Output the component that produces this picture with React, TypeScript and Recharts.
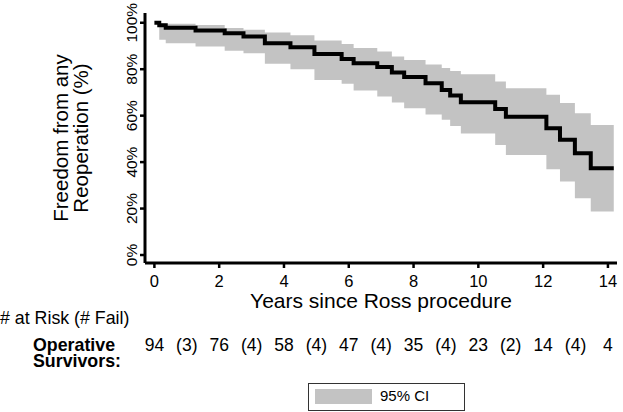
import React from 'react';
import { ComposedChart, Area, Line, XAxis, YAxis } from 'recharts';

const FONT = '"Liberation Sans", Arial, Helvetica, sans-serif';

// Kaplan-Meier estimate (step times in years, freedom from reoperation in %)
const years = [0, 0.15, 0.35, 1.27, 2.17, 2.75, 3.41, 4.2, 4.94, 5.78, 6.15, 6.88, 7.33, 7.71, 8.37, 8.87, 9.13, 9.46, 10.52, 10.85, 12.1, 12.52, 12.98, 13.47, 14.18];
const survival = [100, 98.9, 97.9, 96.7, 95.5, 94.1, 91.2, 89.4, 86.5, 84.4, 82.6, 80.9, 78.6, 76.6, 74.0, 71.1, 68.7, 65.8, 62.9, 59.5, 54.6, 49.6, 43.8, 37.4, 37.4];
const ciUpper = [100, 99.8, 99.6, 99.0, 97.7, 97.0, 95.8, 94.6, 92.4, 90.9, 89.1, 87.6, 85.5, 84.0, 82.0, 80.5, 79.2, 77.8, 74.7, 71.8, 69.0, 65.4, 61.0, 56.0, 56.0];
const ciLower = [100, 92.7, 91.2, 89.8, 88.0, 86.9, 82.3, 80.0, 75.4, 73.7, 70.8, 68.2, 65.7, 63.2, 60.5, 58.2, 55.5, 52.3, 47.4, 43.1, 36.9, 31.6, 24.4, 18.7, 18.7];

// axes
const xTicks = [0, 2, 4, 6, 8, 10, 12, 14];
const yTicks = [0, 20, 40, 60, 80, 100];
const xTitle = 'Years since Ross procedure';
const yTitleLines = ['Freedom from any', 'Reoperation (%)'];

// risk table
const riskYears = [0, 2, 4, 6, 8, 10, 12, 14];
const atRisk = [94, 76, 58, 47, 35, 23, 14, 4];
const failYears = [1, 3, 5, 7, 9, 11, 13];
const failures = [3, 4, 4, 4, 4, 2, 4];
const riskHeader = '# at Risk (# Fail)';
const groupLabel = ['Operative', 'Survivors:'];
const legendLabel = '95% CI';

const BAND = '#c3c3c3';
const W = 623;
const H = 412;

const XTick = (props: any) => {
  const { x, y, payload } = props;
  return (
    <text x={x} y={y} dy={17} textAnchor="middle" fontSize={16.5} fontFamily={FONT} fill="#000">
      {payload.value}
    </text>
  );
};

const YTick = (props: any) => {
  const { x, y, payload } = props;
  return (
    <text
      x={x}
      y={y}
      dy={-1}
      transform={`rotate(-90 ${x} ${y})`}
      textAnchor="middle"
      fontSize={15.5}
      fontFamily={FONT}
      fill="#000"
    >
      {`${payload.value}%`}
    </text>
  );
};

const riskText = (v: number): string => {
  const i = riskYears.indexOf(v);
  if (i >= 0) return String(atRisk[i]);
  const j = failYears.indexOf(v);
  if (j >= 0) return `(${failures[j]})`;
  return '';
};

const RiskTick = (props: any) => {
  const { x, y, payload } = props;
  return (
    <text x={x} y={y} dy={38} textAnchor="middle" fontSize={17.5} fontFamily={FONT} fill="#000">
      {riskText(payload.value)}
    </text>
  );
};

const XTitle = (props: any) => {
  const vb = props.viewBox || {};
  return (
    <text x={vb.x + vb.width / 2} y={vb.y + 45} textAnchor="middle" fontSize={21} fontFamily={FONT} fill="#000">
      {xTitle}
    </text>
  );
};

const RiskLabels = (props: any) => {
  const vb = props.viewBox || {};
  return (
    <g fontFamily={FONT} fill="#000">
      <text x={0} y={vb.y + 11} fontSize={17.8}>{riskHeader}</text>
      <text x={33} y={vb.y + 38} fontSize={17.8} fontWeight="bold">{groupLabel[0]}</text>
      <text x={33} y={vb.y + 53.5} fontSize={17.8} fontWeight="bold">{groupLabel[1]}</text>
    </g>
  );
};

const YTitle = (props: any) => {
  const vb = props.viewBox || {};
  const yc = vb.y + vb.height / 2;
  return (
    <g fontFamily={FONT} fill="#000" fontSize={20.5}>
      <text transform="rotate(-90)" x={-yc} y={68} textAnchor="middle">{yTitleLines[0]}</text>
      <text transform="rotate(-90)" x={-yc} y={88} textAnchor="middle">{yTitleLines[1]}</text>
    </g>
  );
};

export default function App() {
  const data = years.map((t, i) => ({ t, s: survival[i], ci: [ciLower[i], ciUpper[i]] }));
  return (
    <div style={{ position: 'absolute', left: 0, top: 0, width: W, height: H, background: '#fff', fontFamily: FONT }}>
      <ComposedChart width={W} height={H} data={data} margin={{ top: 13, right: 6, left: 0, bottom: 29 }}>
        <XAxis
          xAxisId="main"
          dataKey="t"
          type="number"
          domain={[-0.29, 14.28]}
          allowDataOverflow
          ticks={xTicks}
          height={50}
          axisLine={{ stroke: '#000', strokeWidth: 3 }}
          tickLine={{ stroke: '#000', strokeWidth: 2.5 }}
          tickSize={5}
          tickMargin={2}
          tick={<XTick />}
          label={<XTitle />}
        />
        <XAxis
          xAxisId="risk"
          dataKey="t"
          type="number"
          domain={[-0.29, 14.28]}
          allowDataOverflow
          ticks={[...riskYears, ...failYears].sort((a, b) => a - b)}
          height={70}
          axisLine={false}
          tickLine={false}
          tickSize={0}
          tickMargin={0}
          tick={<RiskTick />}
          interval={0}
          label={<RiskLabels />}
        />
        <YAxis
          type="number"
          domain={[-3.44, 104.2]}
          allowDataOverflow
          ticks={yTicks}
          width={145}
          axisLine={{ stroke: '#000', strokeWidth: 3 }}
          tickLine={{ stroke: '#000', strokeWidth: 2.5 }}
          tickSize={5}
          tickMargin={2}
          tick={<YTick />}
          interval={0}
          label={<YTitle />}
        />
        <Area
          xAxisId="main"
          dataKey="ci"
          type="stepAfter"
          fill={BAND}
          fillOpacity={1}
          stroke="none"
          isAnimationActive={false}
        />
        <Line
          xAxisId="main"
          dataKey="s"
          type="stepAfter"
          stroke="#000"
          strokeWidth={4}
          dot={false}
          isAnimationActive={false}
        />
      </ComposedChart>
      <div
        style={{
          position: 'absolute',
          left: 308,
          top: 383,
          width: 157,
          height: 28,
          border: '1px solid #333',
          boxSizing: 'border-box',
          background: '#fff',
        }}
      >
        <div style={{ position: 'absolute', left: 6, top: 5, width: 57, height: 15, background: BAND }} />
        <div style={{ position: 'absolute', left: 71, top: 3, fontSize: 15, lineHeight: '18px', color: '#000', whiteSpace: 'nowrap' }}>
          {legendLabel}
        </div>
      </div>
    </div>
  );
}
